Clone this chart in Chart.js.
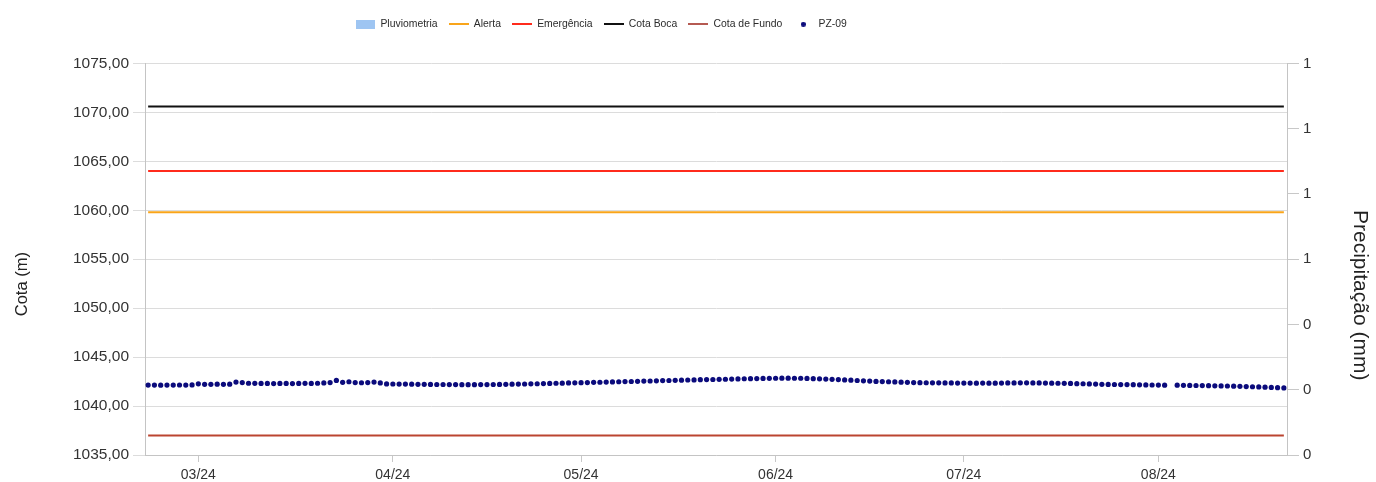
<!DOCTYPE html>
<html lang="pt-BR">
<head>
<meta charset="utf-8">
<title>PZ-09</title>
<script src="https://cdn.jsdelivr.net/npm/chart.js@4.4.1/dist/chart.umd.min.js"></script>
<style>
  html, body { margin: 0; padding: 0; background: #fff; }
</style>
</head>
<body>
<canvas id="pzChart" width="1376" height="482"></canvas>
<script>
// leituras diárias do PZ-09 (primeiro dia = firstDay)
const firstDay = '2024-02-22';
const pz09Values = [
  1042.14, 1042.14, 1042.13, 1042.14, 1042.14, 1042.15, 1042.14, 1042.16,
  1042.27, 1042.22, 1042.22, 1042.23, 1042.22, 1042.23, 1042.45, 1042.40, 1042.33, 1042.32,
  1042.31, 1042.31, 1042.30, 1042.31, 1042.31, 1042.30, 1042.31, 1042.32, 1042.31, 1042.33,
  1042.36, 1042.40, 1042.62, 1042.42, 1042.48, 1042.40, 1042.38, 1042.40, 1042.45, 1042.36,
  1042.26, 1042.25, 1042.24, 1042.24, 1042.23, 1042.22, 1042.22, 1042.21, 1042.20, 1042.20,
  1042.19, 1042.19, 1042.18, 1042.18, 1042.18, 1042.19, 1042.19, 1042.20, 1042.21, 1042.22,
  1042.23, 1042.24, 1042.25, 1042.27, 1042.28, 1042.30, 1042.31, 1042.33, 1042.34, 1042.36,
  1042.37, 1042.39, 1042.40, 1042.42, 1042.43, 1042.45, 1042.46, 1042.48, 1042.50, 1042.51,
  1042.53, 1042.55, 1042.56, 1042.58, 1042.60, 1042.61, 1042.63, 1042.64, 1042.66, 1042.67,
  1042.69, 1042.70, 1042.71, 1042.73, 1042.74, 1042.76, 1042.77, 1042.79, 1042.80, 1042.81,
  1042.82, 1042.83, 1042.84, 1042.85, 1042.85, 1042.84, 1042.84, 1042.82, 1042.80, 1042.78,
  1042.76, 1042.73, 1042.70, 1042.67, 1042.64, 1042.61, 1042.58, 1042.55, 1042.52, 1042.50,
  1042.48, 1042.46, 1042.44, 1042.42, 1042.40, 1042.39, 1042.38, 1042.37, 1042.37, 1042.36,
  1042.36, 1042.35, 1042.35, 1042.35, 1042.34, 1042.35, 1042.34, 1042.34, 1042.35, 1042.36,
  1042.36, 1042.37, 1042.37, 1042.36, 1042.36, 1042.35, 1042.34, 1042.33, 1042.32, 1042.31,
  1042.29, 1042.28, 1042.26, 1042.24, 1042.22, 1042.21, 1042.20, 1042.19, 1042.19, 1042.18,
  1042.17, 1042.16, 1042.15, 1042.14, 1042.13, null, 1042.13, 1042.12, 1042.11, 1042.10,
  1042.09, 1042.08, 1042.07, 1042.06, 1042.05, 1042.03, 1042.01, 1041.99, 1041.97, 1041.95,
  1041.93, 1041.90, 1041.88, 1041.85
];
const pluviometria = []; // sem chuva registrada no período

// cotas de referência (m)
const alertaLevel = 1059.8;
const emergenciaLevel = 1064.0;
const cotaBoca = 1070.6;
const cotaFundo = 1037.0;

// eixo x: início de cada mês e rótulos
const monthTicks = ['2024-03-01', '2024-04-01', '2024-05-01', '2024-06-01', '2024-07-01', '2024-08-01'];
const monthLabels = ['03/24', '04/24', '05/24', '06/24', '07/24', '08/24'];

// eixo da cota e eixo da precipitação
const cotaMin = 1035, cotaMax = 1075, cotaStep = 5;
const chuvaMin = 0, chuvaMax = 1, chuvaTickCount = 7;

const DAY = 86400000;
const FONT = "Arial, 'Liberation Sans', sans-serif";
const startMs = Date.parse(firstDay);
const dayX = (i) => startMs + i * DAY;
const firstX = dayX(0);
const lastX = dayX(pz09Values.length - 1);

const pzPoints = pz09Values.map((v, i) => ({ x: dayX(i), y: v }));
const levelLine = (v) => [{ x: firstX, y: v }, { x: lastX, y: v }];

// ícones da legenda
function legendIcon(w, h, color, round) {
    const c = document.createElement('canvas');
    c.width = w;
    c.height = h;
    const g = c.getContext('2d');
    g.fillStyle = color;
    if (round) {
        g.beginPath();
        g.arc(w / 2, h / 2, w / 2, 0, Math.PI * 2);
        g.fill();
    } else {
        g.fillRect(0, 0, w, h);
    }
    return c;
}

const colors = {
    chuva: '#9ec5f2',
    alerta: '#f9a51a',
    emergencia: '#ff2b1c',
    boca: '#111111',
    fundo: '#bb4530',
    pz: '#0b0b7c'
};

const legendIcons = [
    legendIcon(19, 9, colors.chuva),
    legendIcon(20, 2, colors.alerta),
    legendIcon(20, 2, colors.emergencia),
    legendIcon(20, 2, colors.boca),
    legendIcon(20, 2, '#b55a52'),
    legendIcon(5, 5, colors.pz, true)
];

// ajustes de layout: espaço abaixo da legenda, deslocamento dela e títulos dos eixos
const legendGap = 24;
const legendShift = 87;
const chartTweaks = {
    id: 'chartTweaks',
    beforeLayout(chart) {
        const legend = chart.legend;
        if (legend && !legend.gapPatched) {
            const baseFit = legend.fit;
            legend.fit = function () {
                baseFit.call(this);
                this.height += legendGap;
            };
            legend.gapPatched = true;
        }
    },
    afterLayout(chart) {
        chart.legend.left -= legendShift;
        chart.legend.right -= legendShift;
    },
    afterDraw(chart) {
        const { ctx, chartArea } = chart;
        const midY = (chartArea.top + chartArea.bottom) / 2;
        ctx.save();
        ctx.fillStyle = '#222';
        ctx.textAlign = 'center';
        ctx.textBaseline = 'middle';

        ctx.font = '16.5px ' + FONT;
        ctx.save();
        ctx.translate(chart.scales.y.left + 22, midY + 25);
        ctx.rotate(-Math.PI / 2);
        ctx.fillText('Cota (m)', 0, 0);
        ctx.restore();

        ctx.font = '21px ' + FONT;
        ctx.translate(chart.scales.y1.right - 16, midY + 36);
        ctx.rotate(Math.PI / 2);
        ctx.fillText('Precipitação (mm)', 0, 0);
        ctx.restore();
    }
};

const ctx = document.getElementById('pzChart').getContext('2d');
new Chart(ctx, {
    type: 'line',
    data: {
        datasets: [
            {
                type: 'bar',
                label: 'Pluviometria',
                data: pluviometria,
                backgroundColor: colors.chuva,
                yAxisID: 'y1'
            },
            {
                label: 'Alerta',
                data: levelLine(alertaLevel),
                borderColor: colors.alerta,
                borderWidth: 2,
                pointRadius: 0,
                yAxisID: 'y'
            },
            {
                label: 'Emergência',
                data: levelLine(emergenciaLevel),
                borderColor: colors.emergencia,
                borderWidth: 2,
                pointRadius: 0,
                yAxisID: 'y'
            },
            {
                label: 'Cota Boca',
                data: levelLine(cotaBoca),
                borderColor: colors.boca,
                borderWidth: 2,
                pointRadius: 0,
                yAxisID: 'y'
            },
            {
                label: 'Cota de Fundo',
                data: levelLine(cotaFundo),
                borderColor: colors.fundo,
                borderWidth: 2,
                pointRadius: 0,
                yAxisID: 'y'
            },
            {
                label: 'PZ-09',
                data: pzPoints,
                showLine: false,
                pointRadius: 2.6,
                pointBorderWidth: 0,
                pointBackgroundColor: colors.pz,
                borderColor: colors.pz,
                yAxisID: 'y'
            }
        ]
    },
    options: {
        responsive: false,
        animation: false,
        layout: { padding: { top: 8, left: 0, right: 0, bottom: 0 } },
        plugins: {
            tooltip: { enabled: false },
            legend: {
                position: 'top',
                labels: {
                    usePointStyle: true,
                    pointStyleWidth: 20,
                    padding: 11,
                    color: '#2b2b2b',
                    font: { size: 10.4, family: FONT },
                    generateLabels(chart) {
                        const items = Chart.defaults.plugins.legend.labels.generateLabels(chart);
                        items.forEach((item, i) => { item.pointStyle = legendIcons[i]; });
                        return items;
                    }
                }
            }
        },
        scales: {
            x: {
                type: 'linear',
                offset: false,
                min: firstX - DAY / 2,
                max: lastX + DAY / 2,
                afterBuildTicks(scale) {
                    scale.ticks = monthTicks.map((d) => ({ value: Date.parse(d) }));
                },
                afterFit(scale) { scale.height = 27; },
                ticks: {
                    autoSkip: false,
                    maxRotation: 0,
                    padding: 5,
                    color: '#333',
                    font: { size: 14, family: FONT },
                    callback: (value, index) => monthLabels[index]
                },
                grid: { offset: false, drawOnChartArea: false, tickLength: 7, color: '#c8c8c8' },
                border: { color: '#c4c4c4' }
            },
            y: {
                position: 'left',
                min: cotaMin,
                max: cotaMax,
                afterFit(scale) { scale.width = 145; },
                ticks: {
                    stepSize: cotaStep,
                    padding: 4,
                    color: '#333',
                    font: { size: 15.5, family: FONT },
                    callback: (value) => value.toFixed(2).replace('.', ',')
                },
                grid: { color: '#dcdcdc', tickLength: 12 },
                border: { color: '#c4c4c4' }
            },
            y1: {
                position: 'right',
                min: chuvaMin,
                max: chuvaMax,
                afterFit(scale) { scale.width = 89; },
                ticks: {
                    count: chuvaTickCount,
                    padding: 4,
                    color: '#333',
                    font: { size: 15, family: FONT },
                    callback: (value) => Math.round(value)
                },
                grid: { drawOnChartArea: false, tickLength: 12, color: '#c8c8c8' },
                border: { color: '#c4c4c4' }
            }
        }
    },
    plugins: [chartTweaks]
});
</script>
</body>
</html>
